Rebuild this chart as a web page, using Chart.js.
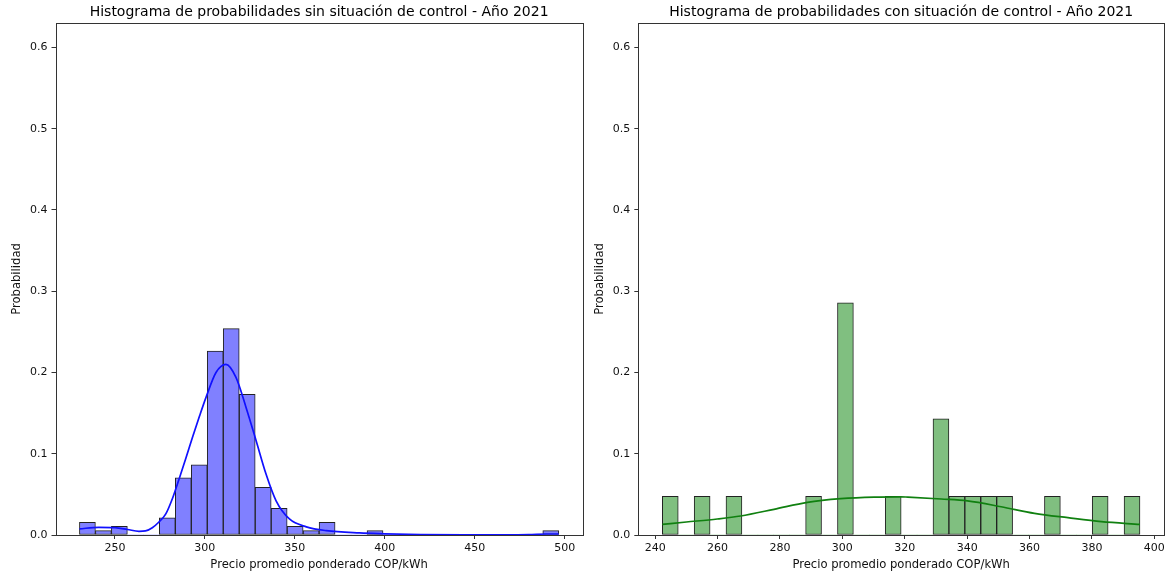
<!DOCTYPE html>
<html>
<head>
<meta charset="utf-8">
<script src="https://cdn.jsdelivr.net/npm/chart.js@4.4.1/dist/chart.umd.min.js"></script>
<style>
  body { margin: 0; background: #fff; width: 1170px; height: 579px; position: relative; overflow: hidden; }
  .box { position: absolute; top: 0; height: 579px; }
  #left { left: 0; width: 590px; }
  #right { left: 590px; width: 580px; }
</style>
</head>
<body>
<div class="box" id="left"><canvas id="chartLeft"></canvas></div>
<div class="box" id="right"><canvas id="chartRight"></canvas></div>
<script>
//****DATA****//

// sin situación de control: 30 bins, centers and probabilities
var sinCenters = [234.74, 243.62, 252.50, 261.38, 270.26, 279.14, 288.02, 296.90, 305.78, 314.66,
                  323.54, 332.42, 341.30, 350.18, 359.06, 367.94, 376.82, 385.70, 394.58, 403.46,
                  412.34, 421.22, 430.10, 438.98, 447.86, 456.74, 465.62, 474.50, 483.38, 492.26];
var sinProbs = [0.0155, 0.0053, 0.0106, 0, 0, 0.021, 0.0703, 0.0863, 0.2264, 0.254,
                0.173, 0.0587, 0.0328, 0.0106, 0.0053, 0.0155, 0, 0, 0.0053, 0,
                0, 0, 0, 0, 0, 0, 0, 0, 0, 0.0053];
var sinKdeX = [230.3, 241, 250, 257, 263.4, 267, 270.8, 274.5, 278.3, 282, 285.7, 289.4, 293.1, 297,
               300.6, 306.2, 311.7, 317.3, 322.9, 328.5, 334, 339.6, 347, 356.4, 367.5, 386, 400,
               420, 450, 480, 490, 496.7];
var sinKdeY = [0.0075, 0.0094, 0.009, 0.0068, 0.0045, 0.005, 0.009, 0.016, 0.026, 0.045, 0.069, 0.094, 0.12, 0.146,
               0.169, 0.2, 0.21, 0.194, 0.157, 0.116, 0.075, 0.042, 0.0197, 0.010, 0.0053, 0.0025, 0.0015,
               0.0005, 0.0002, 0.0006, 0.0012, 0.0012];
var sinTicksX = [250, 300, 350, 400, 450, 500];

// con situación de control
var conCenters = [244.85, 249.95, 255.06, 260.16, 265.26, 270.37, 275.47, 280.57, 285.68, 290.78,
                  295.88, 300.99, 306.09, 311.19, 316.30, 321.40, 326.50, 331.61, 336.71, 341.81,
                  346.92, 352.02, 357.12, 362.23, 367.33, 372.43, 377.54, 382.64, 387.74, 392.85];
var conProbs = [0.0476, 0, 0.0476, 0, 0.0476, 0, 0, 0, 0, 0.0476,
                0, 0.2857, 0, 0, 0.0476, 0, 0, 0.1429, 0.0476, 0.0476,
                0.0476, 0.0476, 0, 0, 0.0476, 0, 0, 0.0476, 0, 0.0476];
var conKdeX = [242.3, 250, 259.9, 267.4, 278.1, 288.8, 299.5, 310.2, 318.7, 321, 331.7, 340.1,
               350.9, 361.6, 372.3, 383, 395.4];
var conKdeY = [0.0131, 0.016, 0.0197, 0.0234, 0.0316, 0.0402, 0.0447, 0.0467, 0.047, 0.0466, 0.0443, 0.042,
               0.0348, 0.0267, 0.0213, 0.0164, 0.0131];
var conTicksX = [240, 260, 280, 300, 320, 340, 360, 380, 400];

var yTicks = [0, 0.1, 0.2, 0.3, 0.4, 0.5, 0.6];
var yMax = 0.63;

//****HELPERS****//

Chart.defaults.font.family = "'DejaVu Sans', sans-serif";
Chart.defaults.font.size = 11;
Chart.defaults.color = '#111';

// matplotlib-like box around the plot, and the title centred over the plot area
var framePlugin = {
  id: 'frame',
  afterDraw: function (chart, args, opts) {
    var a = chart.chartArea;
    var ctx = chart.ctx;
    ctx.save();
    ctx.strokeStyle = '#333';
    ctx.lineWidth = 1;
    ctx.strokeRect(Math.round(a.left) + 0.5, Math.round(a.top) + 0.5,
                   Math.round(a.right - a.left), Math.round(a.bottom - a.top));
    ctx.fillStyle = '#000';
    ctx.font = "14px 'DejaVu Sans', sans-serif";
    ctx.textAlign = 'center';
    ctx.textBaseline = 'middle';
    ctx.fillText(opts.text, (a.left + a.right) / 2, 12.5);
    ctx.restore();
  }
};

function makeHist(id, o) {
  var bars = o.centers.map(function (c, i) { return { x: c, y: o.probs[i] }; });
  var kde = o.kdeX.map(function (x, i) { return { x: x, y: o.kdeY[i] }; });

  return new Chart(document.getElementById(id), {
    type: 'bar',
    data: {
      datasets: [
        {
          type: 'line',
          data: kde,
          borderColor: o.line,
          borderWidth: 1.7,
          pointRadius: 0,
          fill: false,
          cubicInterpolationMode: 'monotone',
          order: 0
        },
        {
          data: bars,
          backgroundColor: o.fill,
          borderColor: '#222',
          borderWidth: function (ctx) { return ctx.raw && ctx.raw.y > 0 ? 1 : 0; },
          borderSkipped: false,
          barPercentage: 1,
          categoryPercentage: 1,
          order: 1
        }
      ]
    },
    options: {
      responsive: true,
      maintainAspectRatio: false,
      animation: false,
      layout: { padding: { left: 0, right: o.padRight, top: 23, bottom: 0 } },
      plugins: {
        legend: { display: false },
        tooltip: { enabled: false },
        title: { display: false },
        frame: { text: o.title }
      },
      scales: {
        x: {
          type: 'linear',
          min: o.xMin,
          max: o.xMax,
          offset: false,
          afterBuildTicks: function (s) { s.ticks = o.ticksX.map(function (v) { return { value: v }; }); },
          afterFit: function (s) { s.height = 44; },
          grid: { display: true, offset: false, drawOnChartArea: false, drawTicks: true, tickLength: 4, color: '#333' },
          border: { display: false },
          ticks: { padding: 3, maxRotation: 0, autoSkip: false, color: '#111',
                   callback: function (v) { return String(v); } },
          title: { display: true, text: 'Precio promedio ponderado COP/kWh', color: '#111',
                   font: { size: 11.6 }, padding: { top: 0, bottom: 7 } }
        },
        y: {
          min: 0,
          max: yMax,
          afterBuildTicks: function (s) { s.ticks = yTicks.map(function (v) { return { value: v }; }); },
          afterFit: function (s) { s.width = o.yWidth; },
          grid: { display: true, drawOnChartArea: false, drawTicks: true, tickLength: 4, color: '#333' },
          border: { display: false },
          ticks: { padding: 4, color: '#111', callback: function (v) { return v.toFixed(1); } },
          title: { display: true, text: 'Probabilidad', color: '#111', font: { size: 11.6 },
                   padding: { top: o.yTitlePad, bottom: 0 } }
        }
      }
    },
    plugins: [framePlugin]
  });
}

//****CHARTS****//

makeHist('chartLeft', {
  centers: sinCenters, probs: sinProbs, kdeX: sinKdeX, kdeY: sinKdeY, ticksX: sinTicksX,
  xMin: 217.0, xMax: 510.0, fill: '#8080ff', line: '#1010ff',
  title: 'Histograma de probabilidades sin situación de control - Año 2021',
  yWidth: 55.5, padRight: 7.3, yTitlePad: 10
});

makeHist('chartRight', {
  centers: conCenters, probs: conProbs, kdeX: conKdeX, kdeY: conKdeY, ticksX: conTicksX,
  xMin: 234.6, xMax: 403.1, fill: '#80bf80', line: '#108010',
  title: 'Histograma de probabilidades con situación de control - Año 2021',
  yWidth: 48.3, padRight: 6, yTitlePad: 3
});
</script>
</body>
</html>
